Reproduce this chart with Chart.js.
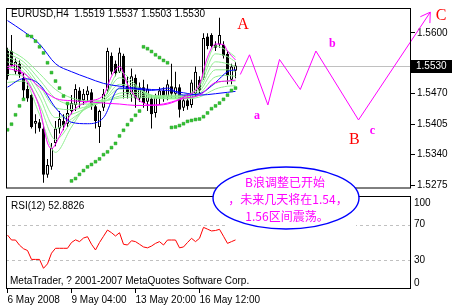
<!DOCTYPE html>
<html>
<head>
<meta charset="utf-8">
<script src="https://cdn.jsdelivr.net/npm/chart.js@4.4.0/dist/chart.umd.min.js"></script>
<style>
  body { margin: 0; background: #fff; }
  #wrap { position: relative; width: 452px; height: 308px; overflow: hidden; background: #fff; }
  canvas { position: absolute; left: 0; }
  #main { top: 0; }
  #rsi { top: 190px; }
  #over { top: 0; pointer-events: none; }
</style>
</head>
<body>
<div id="wrap">
  <canvas id="main" width="452" height="196" style="width:452px;height:196px"></canvas>
  <canvas id="rsi" width="452" height="118" style="width:452px;height:118px"></canvas>
  <canvas id="over" width="452" height="308" style="width:452px;height:308px"></canvas>
</div>
<script>
// EURUSD H4 bars
const opens  = [1.5561,1.5561,1.5517,1.5534,1.5504,1.5480,1.5467,1.5406,1.5409,1.5396,1.5297,1.5314,1.5365,1.5396,1.5412,1.5406,1.5433,1.5446,1.5477,1.5456,1.5467,1.5473,1.5443,1.5399,1.5440,1.5477,1.5551,1.5534,1.5517,1.5551,1.5487,1.5467,1.5504,1.5460,1.5484,1.5453,1.5460,1.5429,1.5460,1.5477,1.5463,1.5486,1.5470,1.5484,1.5440,1.5456,1.5446,1.5470,1.5500,1.5504,1.5592,1.5595,1.5575,1.5575,1.5575,1.5555,1.5500,1.5519];
const highs  = [1.5568,1.5595,1.5545,1.5541,1.5514,1.5494,1.5470,1.5426,1.5416,1.5402,1.5331,1.5365,1.5412,1.5433,1.5426,1.5446,1.5467,1.5490,1.5484,1.5480,1.5486,1.5480,1.5446,1.5436,1.5480,1.5568,1.5558,1.5541,1.5568,1.5555,1.5507,1.5524,1.5511,1.5494,1.5500,1.5490,1.5467,1.5470,1.5484,1.5484,1.5500,1.5534,1.5517,1.5490,1.5463,1.5470,1.5500,1.5528,1.5507,1.5599,1.5599,1.5599,1.5582,1.5632,1.5582,1.5561,1.5534,1.5537];
const lows   = [1.5500,1.5528,1.5511,1.5504,1.5460,1.5453,1.5396,1.5385,1.5389,1.5280,1.5291,1.5308,1.5358,1.5385,1.5392,1.5399,1.5426,1.5433,1.5440,1.5446,1.5453,1.5436,1.5396,1.5365,1.5433,1.5470,1.5511,1.5507,1.5514,1.5460,1.5460,1.5453,1.5440,1.5453,1.5440,1.5433,1.5396,1.5419,1.5446,1.5453,1.5456,1.5460,1.5460,1.5419,1.5433,1.5436,1.5440,1.5463,1.5470,1.5500,1.5565,1.5568,1.5561,1.5568,1.5545,1.5490,1.5490,1.5503];
const closes = [1.5507,1.5531,1.5538,1.5511,1.5477,1.5460,1.5399,1.5412,1.5396,1.5297,1.5318,1.5355,1.5396,1.5416,1.5402,1.5429,1.5450,1.5480,1.5453,1.5470,1.5477,1.5443,1.5412,1.5433,1.5470,1.5561,1.5517,1.5514,1.5558,1.5487,1.5470,1.5507,1.5460,1.5484,1.5450,1.5480,1.5426,1.5463,1.5477,1.5463,1.5490,1.5470,1.5484,1.5436,1.5456,1.5443,1.5494,1.5517,1.5477,1.5589,1.5572,1.5572,1.5568,1.5595,1.5551,1.5507,1.5528,1.5530];

// parabolic SAR dots, one per bar
const sar = [1.5393,1.5405,1.5425,1.5444,1.5458,1.5594,1.5592,1.5582,1.5570,1.5557,1.5536,1.5515,1.5497,1.5482,1.5465,1.5449,1.5284,1.5289,1.5298,1.5306,1.5314,1.5319,1.5325,1.5331,1.5340,1.5346,1.5355,1.5364,1.5380,1.5392,1.5404,1.5414,1.5424,1.5433,1.5570,1.5566,1.5560,1.5553,1.5547,1.5541,1.5536,1.5398,1.5399,1.5402,1.5406,1.5411,1.5413,1.5415,1.5416,1.5421,1.5429,1.5438,1.5444,1.5450,1.5458,1.5467,1.5477,1.5482];

// RSI(12), one per bar
const rsi = [58.4,52.8,52.8,47,43,41,31,31,31,21,26,38,43.5,43.5,43.5,43.5,50,53,51,55,56.5,48,41.6,50,57,64,61,57.3,61,48,47.2,52,51,48,45,44,46,49,51,47.2,52.8,52.8,52.8,44,45,50,54.7,51,54.7,67,65,63,63.5,64.8,57,49,51,52.8826];

// moving averages, read every few bars
const maIdx    = [0,4,8,12,16,20,24,28,32,36,40,44,48,52,55,57];
const green1   = [1.5494,1.5497,1.5426,1.5345,1.5399,1.5446,1.5460,1.5517,1.5490,1.5463,1.5467,1.5467,1.5490,1.5572,1.5561,1.5548];
const green2   = [1.5511,1.5507,1.5446,1.5372,1.5409,1.5443,1.5460,1.5504,1.5487,1.5465,1.5465,1.5465,1.5486,1.5555,1.5549,1.5538];
const green3   = [1.5528,1.5517,1.5463,1.5396,1.5416,1.5440,1.5456,1.5490,1.5484,1.5467,1.5464,1.5464,1.5480,1.5538,1.5534,1.5528];
const green4   = [1.5538,1.5524,1.5477,1.5419,1.5426,1.5440,1.5455,1.5480,1.5479,1.5467,1.5463,1.5463,1.5475,1.5521,1.5521,1.5517];
const green5   = [1.5548,1.5531,1.5488,1.5440,1.5436,1.5443,1.5453,1.5471,1.5473,1.5465,1.5461,1.5461,1.5470,1.5506,1.5509,1.5507];
const green6   = [1.5556,1.5538,1.5500,1.5460,1.5448,1.5448,1.5453,1.5465,1.5468,1.5463,1.5460,1.5460,1.5467,1.5492,1.5497,1.5497];
const green7   = [1.5565,1.5545,1.5513,1.5479,1.5461,1.5455,1.5455,1.5461,1.5463,1.5461,1.5459,1.5459,1.5463,1.5480,1.5486,1.5487];
const blueSlow = [1.5626,1.5603,1.5576,1.5534,1.5517,1.5504,1.5492,1.5486,1.5482,1.5479,1.5477,1.5472,1.5467,1.5470,1.5473,1.5475];
const blueMid  = [1.5484,1.5502,1.5490,1.5440,1.5409,1.5406,1.5419,1.5482,1.5480,1.5477,1.5482,1.5467,1.5470,1.5494,1.5517,1.5521];
const magSlow  = [1.5524,1.5514,1.5484,1.5460,1.5455,1.5453,1.5450,1.5448,1.5445,1.5445,1.5448,1.5460,1.5467,1.5494,1.5497,1.5499];
const magFastIdx = [0,2,4,6,8,10,11,13,16,20,24,26,28,30,32,36,40,44,48,50,52,54,55,57];
const magFast    = [1.5528,1.5531,1.5507,1.5480,1.5440,1.5365,1.5353,1.5379,1.5429,1.5453,1.5467,1.5507,1.5528,1.5490,1.5463,1.5446,1.5450,1.5463,1.5490,1.5548,1.5576,1.5575,1.5561,1.5542];

// hand drawn wave forecast (bar index, price)
const waveIdx   = [58.2,60.5,65.1,68.0,73.2,77.1,87.75,105.7];
const wavePrice = [1.5511,1.5553,1.5446,1.5543,1.5479,1.5561,1.5414,1.5644];
const waveText  = ['A','B','C','a','b','c'];
const waveTextIdx   = [58.9,86.7,108.4,62.4,81.2,91.2];
const waveTextPrice = [1.5616,1.5371,1.5636,1.5423,1.5576,1.5390];

const xTickIdx    = [0,16,32,48];
const xTickLabels = ['6 May 2008','9 May 04:00','13 May 20:00','16 May 12:00'];
const priceTicks  = [1.5275,1.5340,1.5405,1.5470,1.5535,1.5600];
const rsiLevels   = [30,70];
const rsiTicks    = [0,30,70,100];
const noteLines   = ['B浪调整已开始','，未来几天将在1.54，','1.56区间震荡。'];

const xMin = -0.375, xMax = 100.875;
const priceMin = 1.52689, priceMax = 1.56528;
const rsiMin = -2.25, rsiMax = 102.25;

function widthOf(fam) {
  const c = document.createElement('canvas').getContext('2d');
  c.font = '40px ' + fam;
  return c.measureText('EURUSD 1.5600 May').width;
}
const narrowOk = widthOf('"Liberation Sans Narrow", monospace') !== widthOf('monospace');
const uiFamily = narrowOk ? '"Liberation Sans Narrow", "Liberation Sans", sans-serif' : '"Liberation Sans", Arial, sans-serif';
const uiSize = narrowOk ? 11 : 10;
const uiFont = uiSize + 'px ' + uiFamily;

Chart.defaults.font.family = uiFamily;
Chart.defaults.font.size = uiSize;
Chart.defaults.color = '#000';

const pts = (idx, vals) => vals.map((v, i) => ({ x: idx[i], y: v }));
const maLine = (idx, vals, color) => ({
  type: 'line', data: pts(idx, vals), borderColor: color, borderWidth: 1,
  pointRadius: 0, cubicInterpolationMode: 'monotone', order: 2
});

const last = closes.length - 1;

const mainDeco = {
  id: 'mainDeco',
  beforeDatasetsDraw(chart) {
    const { ctx, chartArea: a, scales: { y } } = chart;
    const py = Math.round(y.getPixelForValue(closes[last])) + 0.5;
    ctx.save();
    ctx.strokeStyle = '#c0c0c0';
    ctx.lineWidth = 1;
    ctx.beginPath(); ctx.moveTo(a.left, py); ctx.lineTo(a.right, py); ctx.stroke();
    ctx.restore();
  },
  afterDatasetsDraw(chart) {
    const { ctx, scales: { x, y } } = chart;
    ctx.save();
    // arrow head at C
    const n = waveIdx.length;
    const x1 = x.getPixelForValue(waveIdx[n - 1]), y1 = y.getPixelForValue(wavePrice[n - 1]);
    const x0 = x.getPixelForValue(waveIdx[n - 2]), y0 = y.getPixelForValue(wavePrice[n - 2]);
    const ang = Math.atan2(y0 - y1, x0 - x1);
    ctx.strokeStyle = '#ff00ff';
    ctx.lineWidth = 1;
    ctx.beginPath();
    [-0.55, 0.55].forEach(d => {
      ctx.moveTo(x1, y1);
      ctx.lineTo(x1 + 11 * Math.cos(ang + d), y1 + 11 * Math.sin(ang + d));
    });
    ctx.stroke();
    ctx.textAlign = 'center';
    ctx.textBaseline = 'middle';
    waveText.forEach((t, i) => {
      const big = t === t.toUpperCase();
      ctx.font = big ? '16px "Liberation Serif", serif' : 'bold 12px "Liberation Serif", serif';
      ctx.fillStyle = big ? '#ff0000' : '#ff00ff';
      ctx.fillText(t, x.getPixelForValue(waveTextIdx[i]), y.getPixelForValue(waveTextPrice[i]));
    });
    ctx.restore();
  },
  afterDraw(chart) {
    const { ctx, chartArea: a, scales: { y } } = chart;
    ctx.save();
    ctx.strokeStyle = '#000';
    ctx.lineWidth = 1;
    ctx.strokeRect(a.left + 0.5, a.top + 0.5, a.right - a.left - 1, a.bottom - a.top - 0.5);
    ctx.font = uiFont;
    ctx.fillStyle = '#000';
    ctx.textBaseline = 'middle';
    ctx.fillText('EURUSD,H4  ' + [opens[last], highs[last], lows[last], closes[last]].map(v => v.toFixed(4)).join(' '), 11, 14);
    const py = Math.round(y.getPixelForValue(closes[last]));
    ctx.fillRect(a.right, py - 6, 452 - a.right, 13);
    ctx.fillStyle = '#fff';
    ctx.fillText(closes[last].toFixed(4), a.right + 5, py + 0.5);
    ctx.restore();
  }
};

new Chart(document.getElementById('main'), {
  type: 'bar',
  data: {
    datasets: [
      { type: 'line', data: pts(waveIdx, wavePrice), borderColor: '#ff00ff', borderWidth: 1, pointRadius: 0, clip: false, order: 0 },
      { type: 'line', data: pts(opens.map((_, i) => i), sar), showLine: false, pointStyle: 'rect',
        pointRadius: 2, pointBackgroundColor: '#2fc42f', pointBorderColor: '#1e9c1e', pointBorderWidth: 0.5, order: 1 },
      maLine(magFastIdx, magFast, '#ff00ff'),
      maLine(maIdx, magSlow, '#ff00ff'),
      maLine(maIdx, blueMid, '#0000ff'),
      maLine(maIdx, blueSlow, '#0000ff'),
      maLine(maIdx, green1, '#90ee90'),
      maLine(maIdx, green2, '#90ee90'),
      maLine(maIdx, green3, '#90ee90'),
      maLine(maIdx, green4, '#90ee90'),
      maLine(maIdx, green5, '#90ee90'),
      maLine(maIdx, green6, '#90ee90'),
      maLine(maIdx, green7, '#90ee90'),
      { type: 'bar', data: opens.map((o, i) => ({ x: i, y: [o, closes[i]] })), barThickness: 3,
        backgroundColor: opens.map((o, i) => closes[i] >= o ? '#ffffff' : '#000000'),
        borderColor: '#000', borderWidth: 1, borderSkipped: false, grouped: false, inflateAmount: 0, order: 4 },
      { type: 'bar', data: lows.map((l, i) => ({ x: i, y: [l, highs[i]] })), barThickness: 1,
        backgroundColor: '#000', grouped: false, inflateAmount: 0, order: 5 }
    ]
  },
  options: {
    responsive: false, animation: false, devicePixelRatio: 1,
    layout: { padding: { left: 6, top: 5, right: 0, bottom: 2 } },
    plugins: { legend: { display: false }, tooltip: { enabled: false } },
    scales: {
      x: { type: 'linear', min: xMin, max: xMax, offset: false, display: false },
      y: {
        type: 'linear', position: 'right', min: priceMin, max: priceMax,
        afterBuildTicks: s => { s.ticks = priceTicks.map(v => ({ value: v })); },
        afterFit: s => { s.width = 41; },
        ticks: { callback: (v, i) => i === 4 ? '' : v.toFixed(4), padding: 2, autoSkip: false, color: '#000' },
        grid: { drawOnChartArea: false, tickLength: 4, color: '#000' },
        border: { display: false }
      }
    }
  },
  plugins: [mainDeco]
});

const rsiDeco = {
  id: 'rsiDeco',
  beforeDatasetsDraw(chart) {
    const { ctx, chartArea: a, scales: { y } } = chart;
    ctx.save();
    ctx.strokeStyle = '#c0c0c0';
    ctx.lineWidth = 1;
    ctx.setLineDash([3, 3]);
    rsiLevels.forEach(v => {
      const py = Math.round(y.getPixelForValue(v)) + 0.5;
      ctx.beginPath(); ctx.moveTo(a.left, py); ctx.lineTo(a.right, py); ctx.stroke();
    });
    ctx.restore();
  },
  afterDraw(chart) {
    const { ctx, chartArea: a, scales: { y } } = chart;
    ctx.save();
    ctx.strokeStyle = '#000';
    ctx.lineWidth = 1;
    ctx.strokeRect(a.left + 0.5, a.top + 0.5, a.right - a.left - 1, a.bottom - a.top - 1);
    ctx.font = uiFont;
    ctx.fillStyle = '#000';
    ctx.textBaseline = 'middle';
    ctx.fillText('RSI(12) ' + rsi[rsi.length - 1].toFixed(4), 11, 16);
    ctx.fillText('MetaTrader, ? 2001-2007 MetaQuotes Software Corp.', 10, 91);
    rsiTicks.forEach(v => {
      const py = Math.min(Math.max(y.getPixelForValue(v), a.top + 7), a.bottom - 6);
      ctx.fillText(String(v), a.right + 3, py);
    });
    ctx.restore();
  }
};

new Chart(document.getElementById('rsi'), {
  type: 'line',
  data: {
    datasets: [{ data: rsi.map((v, i) => ({ x: i, y: v })), borderColor: '#ff0000', borderWidth: 1, pointRadius: 0, tension: 0 }]
  },
  options: {
    responsive: false, animation: false, devicePixelRatio: 1,
    layout: { padding: { left: 6, top: 6, right: 0, bottom: 0 } },
    plugins: { legend: { display: false }, tooltip: { enabled: false } },
    scales: {
      x: {
        type: 'linear', min: xMin, max: xMax, offset: false,
        afterBuildTicks: s => { s.ticks = xTickIdx.map(v => ({ value: v })); },
        afterFit: s => { s.height = 19; },
        ticks: { callback: (v, i) => xTickLabels[i], align: 'start', padding: 1, autoSkip: false, maxRotation: 0, color: '#000' },
        grid: { drawOnChartArea: false, tickLength: 4, color: '#000' },
        border: { display: false }
      },
      y: {
        position: 'right', min: rsiMin, max: rsiMax,
        afterFit: s => { s.width = 41; },
        ticks: { display: false }, grid: { display: false }, border: { display: false }
      }
    }
  },
  plugins: [rsiDeco]
});

// note bubble drawn over both panels
const ov = document.getElementById('over').getContext('2d');
ov.fillStyle = '#fff';
ov.fillRect(228, 221, 128, 6);
ov.beginPath();
ov.ellipse(286, 198, 73, 31, 0, 0, Math.PI * 2);
ov.fill();
ov.strokeStyle = '#0000ff';
ov.lineWidth = 1.4;
ov.stroke();
ov.fillStyle = '#ff00ff';
ov.font = '12px "Noto Sans CJK SC", sans-serif';
ov.textAlign = 'center';
ov.textBaseline = 'middle';
[[285, 182], [288, 199.5], [287, 216]].forEach(([cx, cy], i) => ov.fillText(noteLines[i], cx, cy));
</script>
</body>
</html>
